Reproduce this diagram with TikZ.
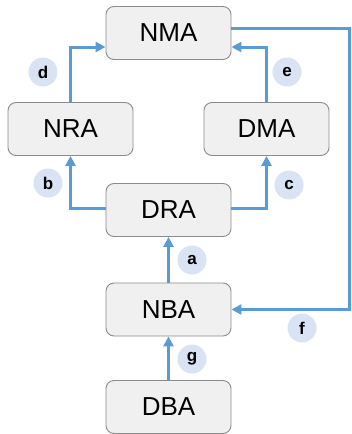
\documentclass[tikz,border=0pt]{standalone}
\usepackage{fontspec}
\setmainfont{Liberation Sans}
\usetikzlibrary{arrows.meta}
\definecolor{boxfill}{HTML}{F0F0F0}
\definecolor{boxline}{HTML}{8C8C8C}
\definecolor{arr}{HTML}{5B9BD5}
\definecolor{tagfill}{HTML}{DAE3F3}
\tikzset{
  blk/.style={draw=boxline, line width=0.9pt, fill=boxfill, rounded corners=8pt,
    minimum width=125pt, minimum height=53pt, inner sep=0pt,
    font=\fontsize{26}{28}\selectfont},
  conn/.style={draw=arr, line width=3pt, -{Triangle[length=10pt,width=10pt]}},
  tag/.style={circle, fill=tagfill, minimum size=29pt, inner sep=0pt,
    font=\fontsize{17}{19}\selectfont\bfseries}
}
\begin{document}
\begin{tikzpicture}[x=1pt,y=-1pt]
\useasboundingbox (0,0) rectangle (352,434);
\node[blk] (nma) at (168.5,33) {NMA};
\node[blk] (nra) at (70.5,129) {NRA};
\node[blk] (dma) at (266.5,129) {DMA};
\node[blk] (dra) at (168.5,210) {DRA};
\node[blk] (nba) at (168.5,309.5) {NBA};
\node[blk] (dba) at (168.5,407) {DBA};
\coordinate (fx) at (349,0);
\draw[conn] (nra.north) |- ([yshift=-14pt]nma.west);
\draw[conn] (dma.north) |- ([yshift=-14pt]nma.east);
\draw[conn] ([yshift=2pt]dra.west) -| (nra.south);
\draw[conn] ([yshift=2pt]dra.east) -| (dma.south);
\draw[conn] (nba.north) -- (dra.south);
\draw[conn] ([yshift=5pt]nma.east) -| (fx |- nba.east) -- (nba.east);
\draw[conn] (dba.north) -- (nba.south);
\node[tag] (td) at (43,72) {d};
\node[tag] (te) at (287,72) {e};
\node[tag] (tb) at (48,183) {b};
\node[tag] (tc) at (289,185) {c};
\node[tag] (ta) at (192,260) {a};
\node[tag] (tf) at (302,328) {f};
\node[tag] (tg) at (192,359) {g};
\end{tikzpicture}
\end{document}
